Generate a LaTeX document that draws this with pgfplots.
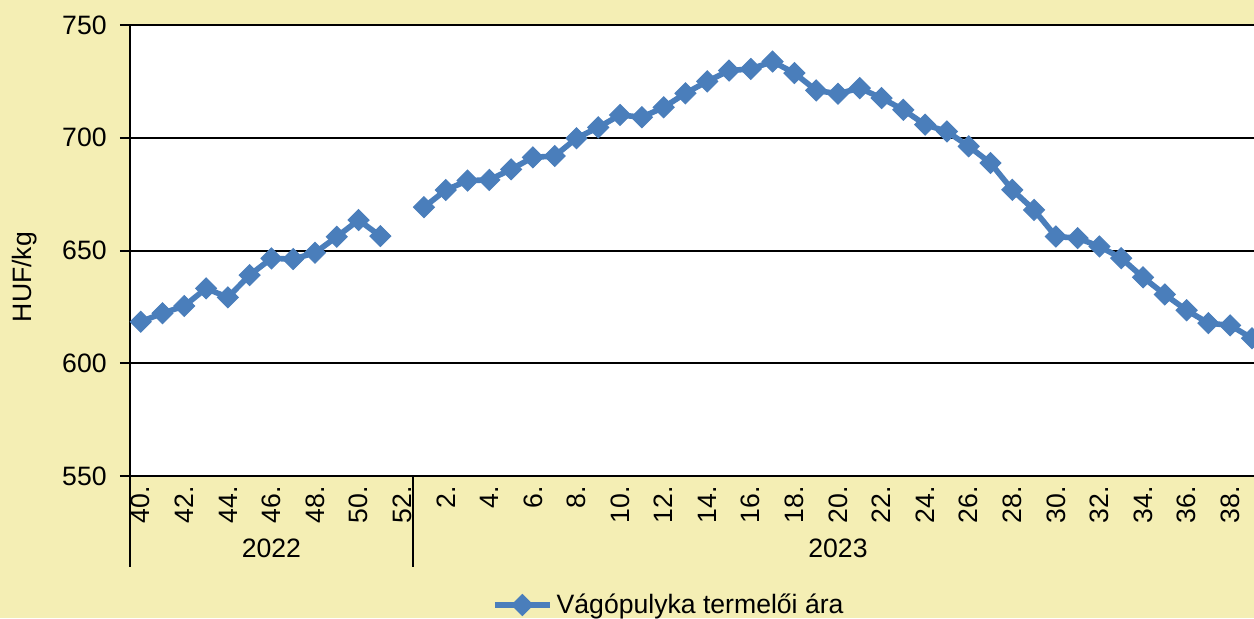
\documentclass[border=0pt]{standalone}
\usepackage{pgfplots}
\pgfplotsset{compat=1.18}
\usepackage{fontspec}
\setmainfont{Liberation Sans}
\definecolor{bgyel}{HTML}{F4EEB4}
\definecolor{serblue}{HTML}{4A7EBB}
\begin{document}
\begin{tikzpicture}[font=\fontsize{13.3}{15}\selectfont]
\fill[bgyel] (-64.9pt,-71pt) rectangle (562.1pt,238pt);
\begin{axis}[
 at={(0,0)}, anchor=south west,
 x=10.895pt, y=1.1275pt,
 xmin=-0.5, xmax=51.1, ymin=550, ymax=750,
 axis x line*=bottom, axis y line*=left,
 axis line style={black, line width=1pt},
 axis background/.style={fill=white},
 ytick={550,600,650,700,750},
 ymajorgrids, grid style={black, line width=1pt},
 xtick={0,2,...,50},
 xticklabels={40.,42.,44.,46.,48.,50.,52.,2.,4.,6.,8.,10.,12.,14.,16.,18.,20.,22.,24.,26.,28.,30.,32.,34.,36.,38.},
 x tick style={draw=none},
 y tick style={black, line width=1pt},
 major tick length=5pt,
 tick align=outside,
 xticklabel style={rotate=90, anchor=east, inner sep=0pt, font=\fontsize{13.3}{15}\selectfont},
 yticklabel style={anchor=east, inner sep=0pt, xshift=-6.4pt, font=\fontsize{13.3}{15}\selectfont},
 /pgf/number format/assume math mode=true,
 unbounded coords=jump,
 legend style={at={(0.4803,-0.286)}, anchor=center, draw=none, fill=none, font=\fontsize{13.3}{15}\selectfont, inner sep=1pt},
 legend image code/.code={\draw[mark repeat=2,mark phase=2,#1] plot coordinates {(0pt,0pt) (13.75pt,0pt) (27.5pt,0pt)};},
]
\addplot[serblue, line width=2.8pt, mark=square*, mark size=3.7pt, mark options={rotate=45, solid, fill=serblue, line width=0.5pt}] table {
x y
0 618.4
1 622.2
2 625.4
3 633.2
4 629.2
5 639.1
6 646.5
7 646.2
8 649.0
9 656.1
10 663.5
11 656.4
12 nan
13 669.2
14 676.8
15 681.0
16 681.3
17 686.0
18 691.3
19 691.9
20 699.8
21 704.6
22 710.1
23 709.1
24 713.5
25 719.7
26 725.0
27 729.8
28 730.5
29 733.8
30 728.7
31 721.0
32 719.5
33 722.0
34 717.6
35 712.4
36 705.8
37 702.8
38 696.2
39 688.8
40 676.9
41 668.0
42 656.2
43 655.5
44 651.8
45 646.6
46 638.1
47 630.5
48 623.5
49 617.8
50 616.8
51 611.1
};
\addlegendentry{Vágópulyka termelői ára}
\end{axis}
\draw[black, line width=1pt] (0,0) -- (0,-45.5pt);
\draw[black, line width=1pt] (141.6pt,0) -- (141.6pt,-45.5pt);
\node at (70.8pt,-36pt) {2022};
\node at (354.1pt,-36pt) {2023};
\node[rotate=90] at (-52.4pt,99.5pt) {HUF/kg};
\pgfresetboundingbox
\path (-64.9pt,-71pt) rectangle (562.1pt,238pt);
\end{tikzpicture}
\end{document}
